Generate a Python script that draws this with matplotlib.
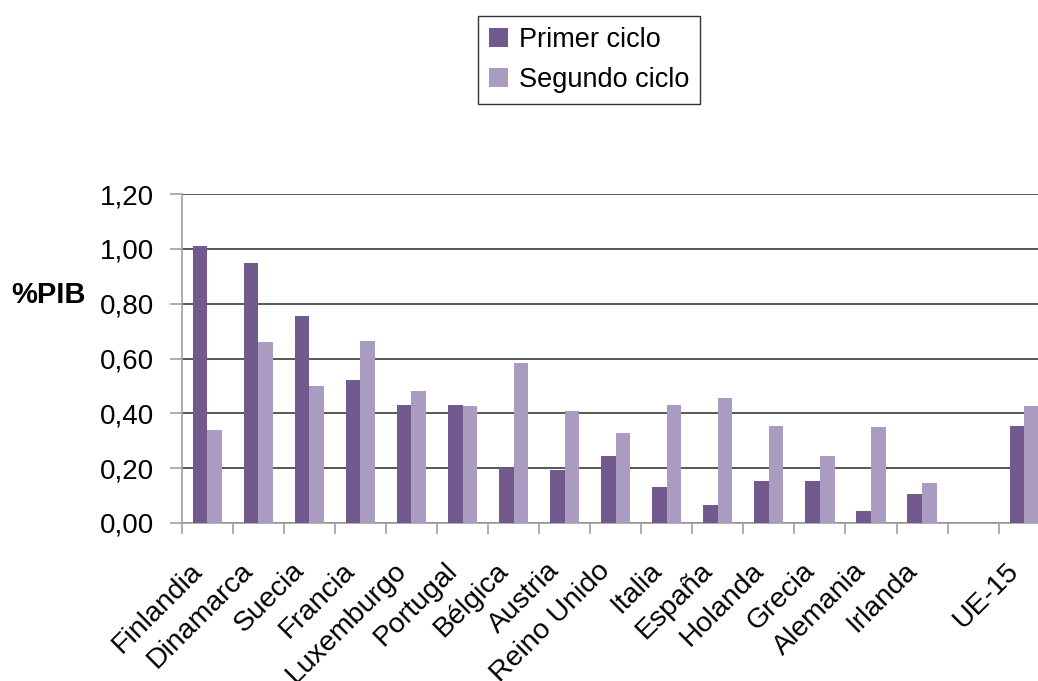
import matplotlib
matplotlib.use('Agg')

import numpy as np
import matplotlib.pyplot as plt

# Data (% of GDP)
paises = ['Finlandia', 'Dinamarca', 'Suecia', 'Francia', 'Luxemburgo', 'Portugal',
          'Bélgica', 'Austria', 'Reino Unido', 'Italia', 'España', 'Holanda',
          'Grecia', 'Alemania', 'Irlanda', '', 'UE-15']
primer_ciclo = [1.01, 0.95, 0.755, 0.52, 0.43, 0.43, 0.20, 0.195, 0.245, 0.13,
                0.065, 0.155, 0.155, 0.045, 0.105, np.nan, 0.355]
segundo_ciclo = [0.34, 0.66, 0.50, 0.665, 0.48, 0.425, 0.585, 0.41, 0.33, 0.43,
                 0.455, 0.355, 0.245, 0.35, 0.145, np.nan, 0.425]
yticks = [0.0, 0.2, 0.4, 0.6, 0.8, 1.0, 1.2]

plt.rcParams['font.family'] = ['Liberation Sans', 'DejaVu Sans']

col1 = '#725a8f'
col2 = '#aa9cc0'

fig = plt.figure(figsize=(10.38, 6.81), dpi=100)
n = len(paises)
cat_w = 51.06 / 1038
ax = fig.add_axes([181.7 / 1038, 1 - 523 / 681, n * cat_w, (523 - 194) / 681])

x = np.arange(n)
w = 0.286
ax.bar(x - w / 2, primer_ciclo, w, color=col1, label='Primer ciclo', zorder=3)
ax.bar(x + w / 2, segundo_ciclo, w, color=col2, label='Segundo ciclo', zorder=3)

ax.set_xlim(-0.5, n - 0.5)
ax.set_ylim(0, 1.2)
ax.set_yticks(yticks)
ax.set_yticklabels([f'{v:.2f}'.replace('.', ',') for v in yticks], fontsize=20)
ax.yaxis.grid(True, color='#2a2a2a', linewidth=1.1, zorder=0)

ax.set_xticks(x)
ax.set_xticklabels(paises, rotation=45, ha='right', fontsize=20.5)
ax.set_xticks(np.arange(-0.5, n, 1.0), minor=True)
ax.tick_params(axis='x', which='major', length=0, pad=25)
ax.tick_params(axis='x', which='minor', length=8, color='#a0a0a0', width=1.2)
ax.tick_params(axis='y', length=9, color='#a0a0a0', width=1.2, pad=11)

for s in ['top', 'right']:
    ax.spines[s].set_visible(False)
for s in ['left', 'bottom']:
    ax.spines[s].set_color('#a0a0a0')
    ax.spines[s].set_linewidth(1.2)

fig.text(48 / 1038, 1 - 295 / 681, '%PIB', fontsize=21, fontweight='bold',
         ha='center', va='center')

leg = fig.legend(loc='center', bbox_to_anchor=(589 / 1038, 1 - 60 / 681),
                 fontsize=19.5, handlelength=0.72, handleheight=0.72,
                 handletextpad=0.4, labelspacing=0.5, borderpad=0.4,
                 fancybox=False, framealpha=1)
leg.get_frame().set_edgecolor('#333333')
leg.get_frame().set_linewidth(1.0)

fig.savefig('out.png', dpi=100)
